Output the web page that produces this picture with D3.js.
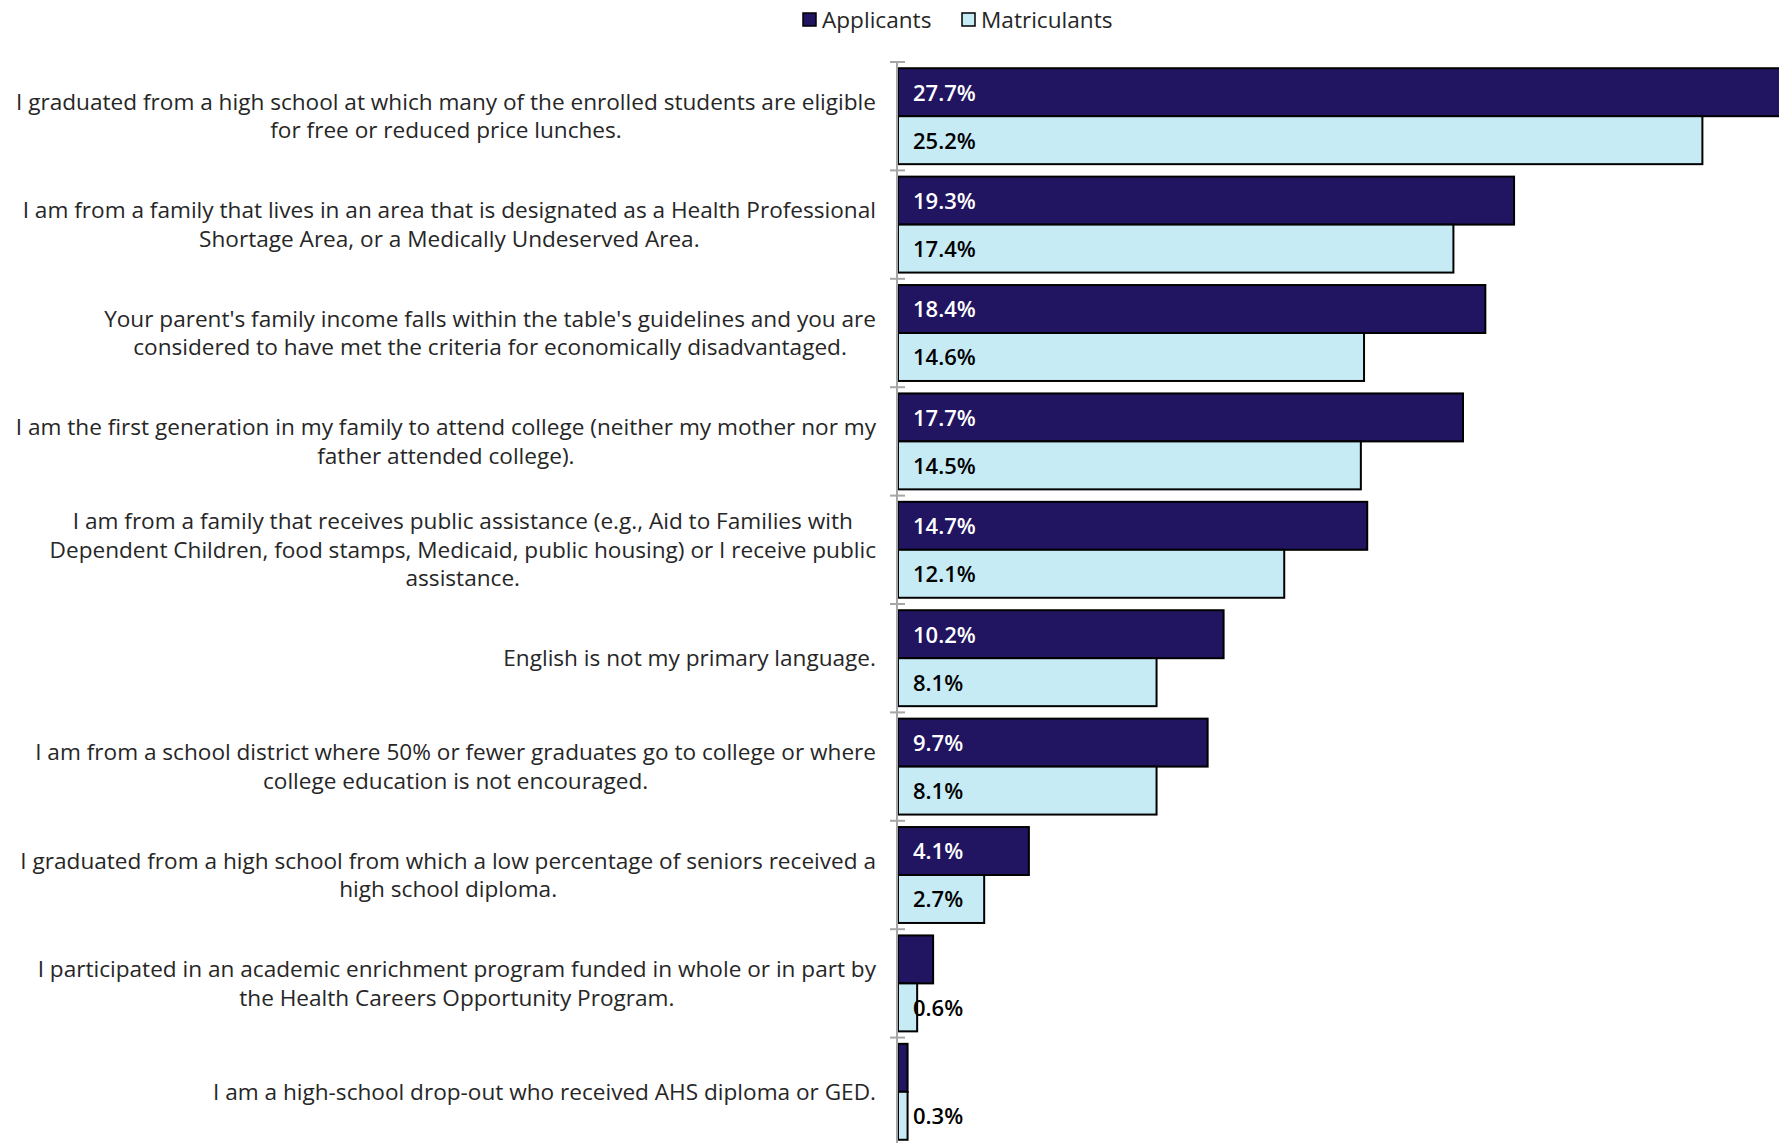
<!DOCTYPE html>
<html lang="en">
  <head>
    <meta charset="UTF-8">
    <title>Disadvantaged status: applicants vs matriculants</title>
    <style>
      body {
        margin: 0;
        background: #fff;
        font-family: 'Open Sans', Lato, sans-serif;
      }
    </style>
  </head>
  <body>
    <div id="chart"></div>

    <script src="https://d3js.org/d3.v7.min.js"></script>
    <script>
      const categories = [
        ['I graduated from a high school at which many of the enrolled students are eligible', 'for free or reduced price lunches.'],
        ['I am from a family that lives in an area that is designated as a Health Professional', 'Shortage Area, or a Medically Undeserved Area.'],
        ["Your parent's family income falls within the table's guidelines and you are", 'considered to have met the criteria for economically disadvantaged.'],
        ['I am the first generation in my family to attend college (neither my mother nor my', 'father attended college).'],
        ['I am from a family that receives public assistance (e.g., Aid to Families with', 'Dependent Children, food stamps, Medicaid, public housing) or I receive public', 'assistance.'],
        ['English is not my primary language.'],
        ['I am from a school district where 50% or fewer graduates go to college or where', 'college education is not encouraged.'],
        ['I graduated from a high school from which a low percentage of seniors received a', 'high school diploma.'],
        ['I participated in an academic enrichment program funded in whole or in part by', 'the Health Careers Opportunity Program.'],
        ['I am a high-school drop-out who received AHS diploma or GED.']
      ];
      const seriesNames = ['Applicants', 'Matriculants'];
      const applicants = [27.7, 19.3, 18.4, 17.7, 14.7, 10.2, 9.7, 4.1, 1.1, 0.3];
      const matriculants = [25.2, 17.4, 14.6, 14.5, 12.1, 8.1, 8.1, 2.7, 0.6, 0.3];
      // applicant labels for the two smallest bars are not shown in the original
      const showApplicantLabel = [true, true, true, true, true, true, true, true, false, false];
      const colors = ['#211460', '#c6ebf5'];
      const labelColors = ['#ffffff', '#000000'];

      const width = 1779;
      const height = 1143;
      const axisX = 898;
      const plotTop = 62;

      const svg = d3.select('#chart').append('svg')
        .attr('width', width)
        .attr('height', height)
        .style('display', 'block');

      const y = d3.scaleBand()
        .domain(d3.range(categories.length))
        .range([plotTop, 1146]);

      const ySub = d3.scaleBand()
        .domain(seriesNames)
        .range([0, y.bandwidth()])
        .paddingOuter(0.13);

      const x = d3.scaleLinear()
        .domain([0, 27.6])
        .range([axisX, width]);

      const rows = categories.map((c, i) => ({
        i,
        lines: c,
        values: [applicants[i], matriculants[i]]
      }));

      const groups = svg.append('g').selectAll('g')
        .data(rows)
        .join('g')
        .attr('transform', d => `translate(0,${y(d.i)})`);

      groups.selectAll('rect')
        .data(d => d.values.map((v, s) => ({ v, s, i: d.i })))
        .join('rect')
        .attr('x', x(0))
        .attr('y', d => ySub(seriesNames[d.s]))
        .attr('width', d => x(d.v) - x(0))
        .attr('height', ySub.bandwidth())
        .attr('fill', d => colors[d.s])
        .attr('stroke', '#000')
        .attr('stroke-width', 2);

      groups.selectAll('text.val')
        .data(d => d.values.map((v, s) => ({ v, s, i: d.i }))
          .filter(d => d.s === 1 || showApplicantLabel[d.i]))
        .join('text')
        .attr('class', 'val')
        .attr('x', x(0) + 15)
        .attr('y', d => ySub(seriesNames[d.s]) + ySub.bandwidth() / 2)
        .attr('dy', '0.38em')
        .attr('fill', d => labelColors[d.s])
        .style('font-size', '22px')
        .style('font-weight', '600')
        .text(d => d3.format('.1f')(d.v) + '%');

      // category labels: block right-aligned to the axis, lines centred in block
      const labelRight = axisX - 22;
      const lineH = 28.5;
      groups.each(function (d) {
        const g = d3.select(this);
        const t = g.append('text')
          .style('font-size', '22.6px')
          .attr('fill', '#262626')
          .attr('text-anchor', 'middle');
        const n = d.lines.length;
        const spans = t.selectAll('tspan')
          .data(d.lines)
          .join('tspan')
          .attr('y', (l, k) => y.bandwidth() / 2 + (k - (n - 1) / 2) * lineH)
          .attr('dy', '0.35em')
          .text(l => l);
        let maxW = 0;
        spans.each(function () { maxW = Math.max(maxW, this.getComputedTextLength()); });
        spans.attr('x', labelRight - maxW / 2);
      });

      // vertical axis with crossing ticks at band edges
      const axis = svg.append('g').attr('stroke', '#a6a6a6').attr('stroke-width', 2);
      axis.append('line')
        .attr('x1', axisX - 1).attr('x2', axisX - 1)
        .attr('y1', plotTop).attr('y2', height);
      axis.selectAll('line.tick')
        .data(d3.range(categories.length + 1))
        .join('line')
        .attr('class', 'tick')
        .attr('x1', axisX - 8).attr('x2', axisX + 7)
        .attr('y1', i => plotTop + i * y.step())
        .attr('y2', i => plotTop + i * y.step());

      // legend
      const legend = svg.append('g').attr('transform', 'translate(802,20)');
      const legendX = [0, 159];
      const item = legend.selectAll('g')
        .data(seriesNames)
        .join('g')
        .attr('transform', (d, i) => `translate(${legendX[i]},0)`);
      item.append('rect')
        .attr('x', 1).attr('y', -7)
        .attr('width', 13).attr('height', 13)
        .attr('fill', (d, i) => colors[i])
        .attr('stroke', '#000')
        .attr('stroke-width', 1.5);
      item.append('text')
        .attr('x', 20)
        .attr('dy', '0.35em')
        .style('font-size', '22.6px')
        .attr('fill', '#262626')
        .text(d => d);
    </script>
  </body>
</html>
